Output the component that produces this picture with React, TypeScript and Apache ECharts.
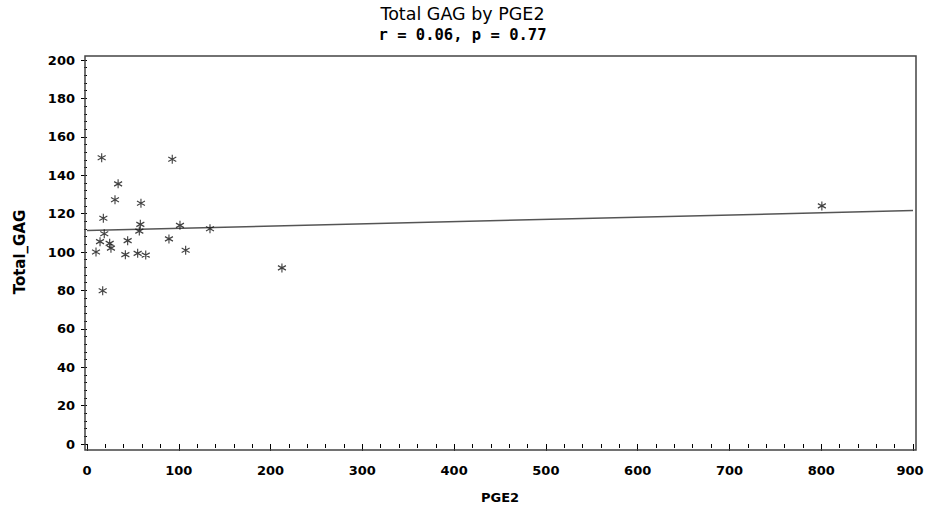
import React, { useEffect, useRef } from "react";
import * as echarts from "echarts";

const pge2 = [16.0, 92.9, 33.9, 30.5, 58.8, 17.8, 58.1, 101.3, 134.0, 18.8, 57.0, 14.2, 24.7, 44.3, 89.3, 26.1, 9.8, 107.5, 41.8, 55.2, 64.0, 17.1, 212.4, 800.7];
const totalGag = [149.1, 148.3, 135.5, 127.2, 125.4, 117.6, 114.4, 113.9, 112.1, 109.5, 110.9, 105.4, 104.5, 105.9, 106.8, 102.0, 100.0, 100.9, 98.6, 99.3, 98.4, 79.8, 91.7, 124.0];
const fitX = [0, 900];
const fitY = [111.2, 121.6];
const xTicks = [0, 100, 200, 300, 400, 500, 600, 700, 800, 900];
const yTicks = [0, 20, 40, 60, 80, 100, 120, 140, 160, 180, 200];

const STAR = "path://M0,-5L0,5M-4.33,-2.5L4.33,2.5M-4.33,2.5L4.33,-2.5";

export default function App() {
  const ref = useRef<HTMLDivElement>(null);
  useEffect(() => {
    const chart = echarts.init(ref.current!, null, { renderer: "svg" });
    const labelFont = {
      color: "#000",
      fontFamily: "DejaVu Sans",
      fontWeight: "bold" as const,
      fontSize: 13,
    };
    const xMax = xTicks[xTicks.length - 1];
    chart.setOption({
      animation: false,
      backgroundColor: "#fff",
      title: [
        {
          text: "Total GAG by PGE2",
          left: "center",
          top: 0,
          textStyle: { fontFamily: "DejaVu Sans", fontWeight: "normal", fontSize: 17.5, color: "#000" },
        },
        {
          text: "r = 0.06, p = 0.77",
          left: "center",
          top: 22,
          textStyle: { fontFamily: "DejaVu Sans Mono", fontWeight: "bold", fontSize: 15.5, color: "#000" },
        },
      ],
      grid: { left: 87, right: 12, top: 60, bottom: 64, outerBoundsMode: "none", containLabel: false },
      xAxis: {
        type: "value",
        min: xTicks[0],
        max: xMax,
        interval: 100,
        offset: 6,
        name: "PGE2",
        nameLocation: "middle",
        nameGap: 41,
        nameTextStyle: { ...labelFont },
        axisLine: { show: false },
        axisTick: { show: true, length: 7, lineStyle: { color: "#000", width: 1 } },
        minorTick: { show: true, splitNumber: 5, length: 4, lineStyle: { color: "#000", width: 1 } },
        axisLabel: {
          ...labelFont,
          margin: 14,
          hideOverlap: false,
          formatter: (v: number) => (v === xMax ? `{last|${v}}` : `${v}`),
          rich: { last: { ...labelFont, padding: [0, 6, 0, 0] } },
        },
        splitLine: { show: false },
      },
      yAxis: {
        type: "value",
        min: yTicks[0],
        max: yTicks[yTicks.length - 1],
        interval: 20,
        offset: 2,
        name: "Total_GAG",
        nameLocation: "middle",
        nameGap: 58,
        nameRotate: 90,
        nameTextStyle: { ...labelFont, fontSize: 15 },
        axisLine: { show: false },
        axisTick: { show: true, length: 6, lineStyle: { color: "#000", width: 1 } },
        minorTick: { show: true, splitNumber: 5, length: 3, lineStyle: { color: "#000", width: 1 } },
        axisLabel: { ...labelFont, margin: 10 },
        splitLine: { show: false },
      },
      graphic: [
        {
          type: "rect",
          shape: { x: 85, y: 56, width: 831, height: 394 },
          style: { fill: "none", stroke: "#444", lineWidth: 1.5 },
          silent: true,
          z: 10,
        },
      ],
      series: [
        {
          type: "line",
          data: fitX.map((x, i) => [x, fitY[i]]),
          showSymbol: false,
          symbol: "none",
          lineStyle: { color: "#555", width: 1.5 },
          z: 2,
        },
        {
          type: "scatter",
          data: pge2.map((x, i) => [x, totalGag[i]]),
          symbol: STAR,
          symbolSize: [8, 9],
          itemStyle: { color: "transparent", borderColor: "#111", borderWidth: 1.2 },
          z: 3,
        },
      ],
    });
    return () => chart.dispose();
  }, []);
  return <div ref={ref} style={{ position: "absolute", left: 0, top: 0, width: 925, height: 508 }} />;
}
